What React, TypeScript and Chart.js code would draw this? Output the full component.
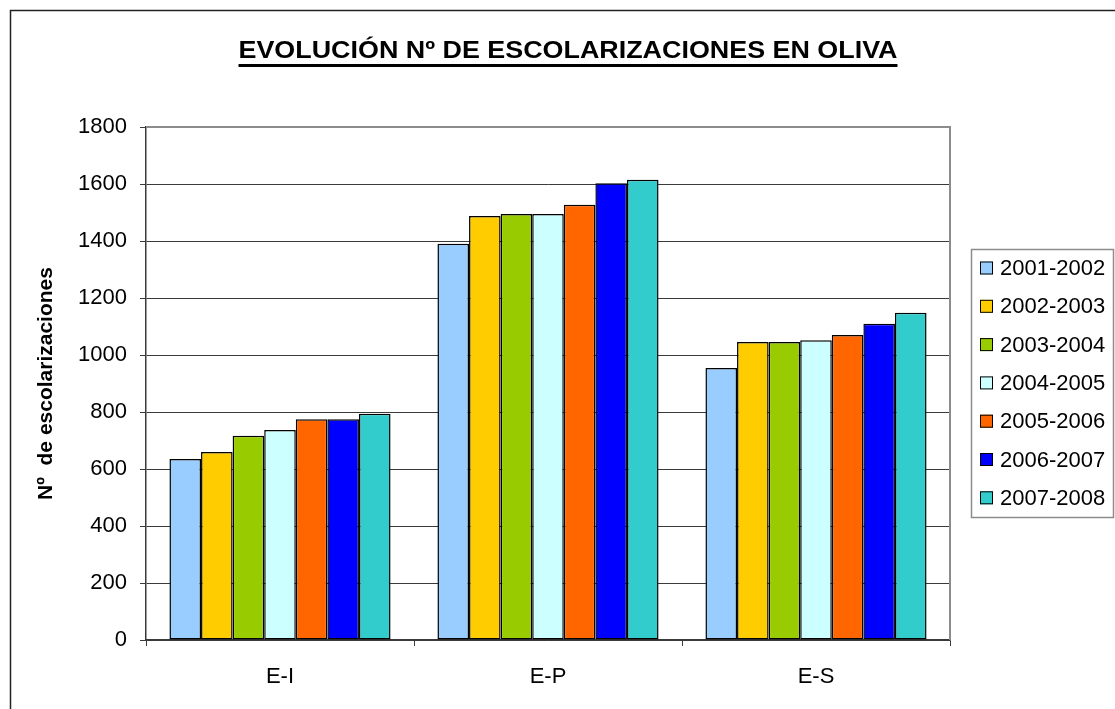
import React, { useEffect, useRef } from "react";
import { Chart, registerables } from "chart.js";

Chart.register(...registerables);

const categories = ["E-I", "E-P", "E-S"];
const seriesNames = ["2001-2002", "2002-2003", "2003-2004", "2004-2005", "2005-2006", "2006-2007", "2007-2008"];
const s2001 = [635, 1390, 954];
const s2002 = [660, 1488, 1046];
const s2003 = [717, 1495, 1046];
const s2004 = [737, 1495, 1052];
const s2005 = [775, 1527, 1070];
const s2006 = [775, 1603, 1110];
const s2007 = [794, 1615, 1148];
const seriesValues = [s2001, s2002, s2003, s2004, s2005, s2006, s2007];
const seriesColors = ["#99CCFF", "#FFCC00", "#99CC00", "#CCFFFF", "#FF6600", "#0000FF", "#33CCCC"];
const yTicks = [0, 200, 400, 600, 800, 1000, 1200, 1400, 1600, 1800];
const titleText = "EVOLUCIÓN Nº DE ESCOLARIZACIONES EN OLIVA";
const yTitle = "Nº  de escolarizaciones";

const FONT = "Arial, 'Liberation Sans', sans-serif";

const decorPlugin = {
  id: "decor",
  beforeDatasetsDraw(chart: any) {
    const { ctx, chartArea } = chart;
    ctx.save();
    ctx.strokeStyle = "#8c8c8c";
    ctx.lineWidth = 2;
    ctx.beginPath();
    ctx.moveTo(chartArea.left, chartArea.top);
    ctx.lineTo(chartArea.right, chartArea.top);
    ctx.lineTo(chartArea.right, chartArea.bottom);
    ctx.stroke();
    ctx.restore();
  },
  afterDraw(chart: any) {
    const { ctx } = chart;
    ctx.save();
    // outer border
    ctx.strokeStyle = "#222";
    ctx.lineWidth = 1.5;
    ctx.beginPath();
    ctx.moveTo(10.5, 720);
    ctx.lineTo(10.5, 10.5);
    ctx.lineTo(1130, 10.5);
    ctx.stroke();

    // title with underline (wide rendering)
    ctx.font = `bold 24px ${FONT}`;
    ctx.fillStyle = "#000";
    ctx.textAlign = "center";
    ctx.textBaseline = "alphabetic";
    const cx = 568;
    const sx = 1.12;
    const w = ctx.measureText(titleText).width * sx;
    ctx.save();
    ctx.translate(cx, 57.5);
    ctx.scale(sx, 1);
    ctx.fillText(titleText, 0, 0);
    ctx.restore();
    ctx.fillRect(cx - w / 2, 64, w, 3);

    // legend
    const lx = 971, ly = 249, lw = 142, lh = 268;
    ctx.strokeStyle = "#8c8c8c";
    ctx.lineWidth = 1.5;
    ctx.strokeRect(lx + 0.5, ly + 0.5, lw, lh);
    ctx.font = `22px ${FONT}`;
    ctx.textAlign = "left";
    ctx.textBaseline = "middle";
    chart.data.datasets.forEach((ds: any, i: number) => {
      const y = 268 + i * 38.3;
      ctx.fillStyle = ds.backgroundColor;
      ctx.fillRect(980, y - 6.5, 13, 13);
      ctx.strokeStyle = "#000";
      ctx.lineWidth = 1;
      ctx.strokeRect(980.5, y - 6, 12, 12);
      ctx.fillStyle = "#000";
      ctx.fillText(ds.label, 1000, y + 1);
    });
    ctx.restore();
  },
};

export default function App() {
  const ref = useRef<HTMLCanvasElement>(null);
  useEffect(() => {
    if (!ref.current) return;
    const chart = new Chart(ref.current, {
      type: "bar",
      data: {
        labels: categories,
        datasets: seriesNames.map((name, i) => ({
          label: name,
          data: seriesValues[i],
          backgroundColor: seriesColors[i],
          borderColor: "#000",
          borderWidth: 1.5,
          borderSkipped: false,
          categoryPercentage: 0.825,
          barPercentage: 1,
        })),
      },
      options: {
        responsive: false,
        animation: false,
        devicePixelRatio: 1,
        layout: { padding: { left: 10, top: 127, right: 165, bottom: 0 } },
        plugins: {
          legend: { display: false },
          title: { display: false },
          tooltip: { enabled: false },
        },
        scales: {
          y: {
            min: 0,
            max: 1800,
            afterBuildTicks: (scale: any) => {
              scale.ticks = yTicks.map((v) => ({ value: v }));
            },
            afterFit: (scale: any) => {
              scale.width = 136;
            },
            ticks: {
              color: "#000",
              font: { family: FONT, size: 22 },
              padding: 13,
              callback: (v: any) => String(v),
            },
            grid: {
              color: "#3a3a3a",
              lineWidth: 1,
              tickLength: 6,
              tickColor: "#3a3a3a",
            },
            border: { display: true, color: "#3a3a3a", width: 1.5 },
            title: {
              display: true,
              text: yTitle,
              color: "#000",
              font: { family: FONT, size: 21, weight: "bold" },
              padding: { top: 24, bottom: 0 },
            },
          },
          x: {
            afterFit: (scale: any) => {
              scale.height = 69;
            },
            ticks: {
              color: "#000",
              font: { family: FONT, size: 22 },
              padding: 18,
            },
            grid: {
              offset: true,
              drawOnChartArea: false,
              drawTicks: true,
              tickLength: 6,
              color: "#3a3a3a",
            },
            border: { display: true, color: "#3a3a3a", width: 1.5 },
          },
        },
      },
      plugins: [decorPlugin],
    });
    return () => chart.destroy();
  }, []);
  return (
    <div style={{ position: "absolute", left: 0, top: 0, width: 1115, height: 709, background: "#fff" }}>
      <canvas ref={ref} width={1115} height={709} style={{ width: 1115, height: 709, display: "block" }} />
    </div>
  );
}
